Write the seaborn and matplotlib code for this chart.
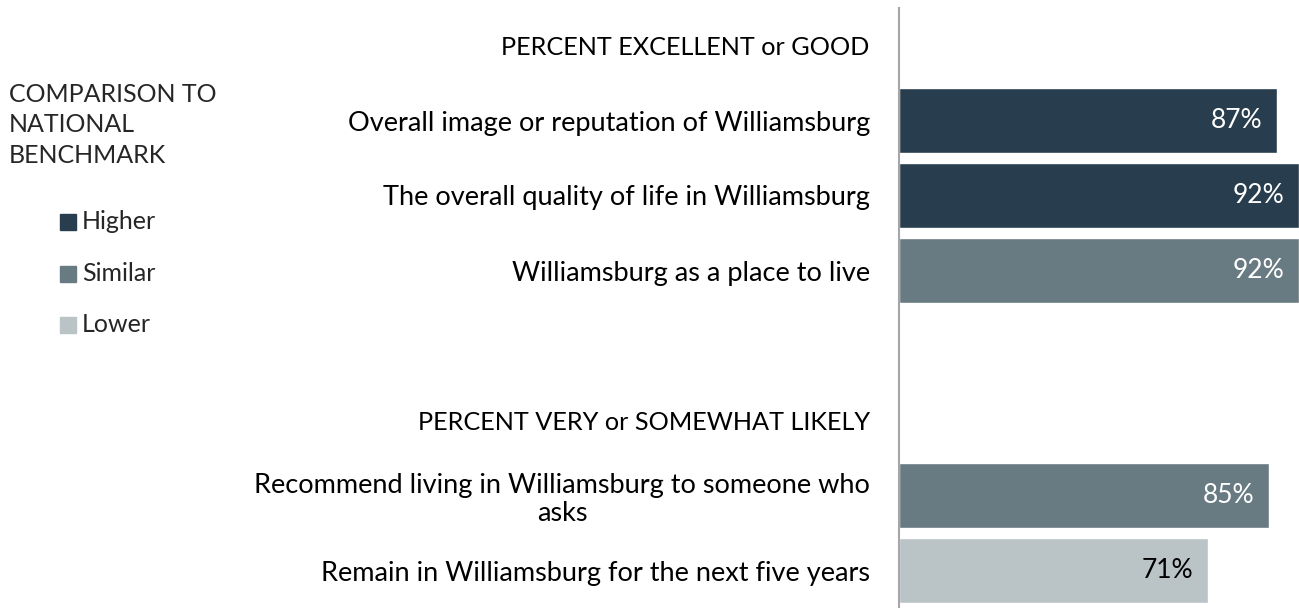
# horizontal bar chart of Williamsburg community ratings with benchmark comparison

import pandas as pd
import seaborn as sns
import matplotlib.pyplot as plt
from matplotlib.patches import Rectangle

# data
row_order = [
    'PERCENT EXCELLENT or GOOD',
    'Overall image or reputation of Williamsburg',
    'The overall quality of life in Williamsburg',
    'Williamsburg as a place to live',
    ' ',
    'PERCENT VERY or SOMEWHAT LIKELY',
    'Recommend living in Williamsburg to someone who\nasks',
    'Remain in Williamsburg for the next five years',
]
headers = ['PERCENT EXCELLENT or GOOD', 'PERCENT VERY or SOMEWHAT LIKELY']
items = [
    'Overall image or reputation of Williamsburg',
    'The overall quality of life in Williamsburg',
    'Williamsburg as a place to live',
    'Recommend living in Williamsburg to someone who\nasks',
    'Remain in Williamsburg for the next five years',
]
values = [87, 92, 92, 85, 71]
benchmark = ['Higher', 'Higher', 'Similar', 'Similar', 'Lower']
levels = ['Higher', 'Similar', 'Lower']
colors = {'Higher': '#283E4E', 'Similar': '#697B82', 'Lower': '#BAC3C6'}
label_colors = {'Higher': 'white', 'Similar': 'white', 'Lower': 'black'}

df = pd.DataFrame({'Item': items, 'Value': values, 'Benchmark': benchmark})

sns.set_style('white')
plt.rcParams['font.family'] = ['Lato', 'DejaVu Sans']

fig = plt.figure(figsize=(12.99, 6.08), dpi=100)
ax = fig.add_axes([899 / 1299, 0, 400 / 1299, 600 / 608])

sns.barplot(data=df, y='Item', x='Value', hue='Benchmark', order=row_order,
            hue_order=levels, palette=colors, saturation=1, width=0.87,
            orient='h', legend=False, ax=ax)

ax.set_xlim(0, 92)
ax.set_ylim(7.5, -0.5)
ax.set_xlabel('')
ax.set_ylabel('')
ax.set_xticks([])
ax.tick_params(axis='y', length=0, pad=21, labelsize=19.5, labelcolor='black')
for lbl in ax.get_yticklabels():
    lbl.set_multialignment('center')
    lbl.set_linespacing(1.15)
    if lbl.get_text() in headers:
        lbl.set_fontsize(18.2)

for s in ['top', 'right', 'bottom']:
    ax.spines[s].set_visible(False)
ax.spines['left'].set_color('#A6A6A6')
ax.spines['left'].set_linewidth(1.5)

# value labels inside the bars
for item, v, b in zip(items, values, benchmark):
    ax.annotate(f'{v}%', xy=(v, row_order.index(item)), xytext=(-10.5, 0),
                textcoords='offset points', ha='right', va='center',
                fontsize=19, color=label_colors[b])

# legend on the left
fig.text(9 / 1299, 1 - 125 / 608, 'COMPARISON TO\nNATIONAL\nBENCHMARK',
         ha='left', va='center', fontsize=18, linespacing=1.38)
for k, lev in enumerate(levels):
    yc = 222 + k * 51.5
    fig.patches.append(Rectangle((60 / 1299, 1 - (yc + 8) / 608), 16 / 1299, 16 / 608,
                                 transform=fig.transFigure, color=colors[lev]))
    fig.text(82 / 1299, 1 - yc / 608, lev, ha='left', va='center', fontsize=18)

plt.savefig('out.png', dpi=100)
